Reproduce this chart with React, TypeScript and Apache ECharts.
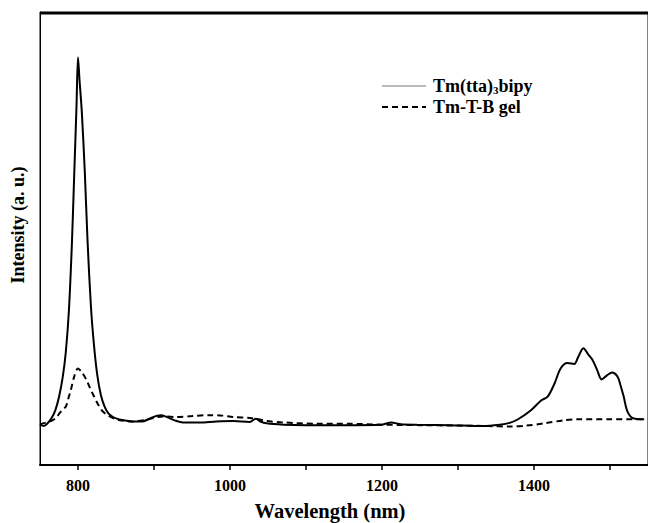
import React, { useEffect, useRef } from "react";
import * as echarts from "echarts";

const seriesNames = ["Tm(tta)3bipy", "Tm-T-B gel"];

const complexWavelength = [750, 755, 760, 765, 770, 775, 780, 784, 788, 792, 795, 798, 800, 802, 805, 809, 812.5, 817, 821, 825, 830, 835, 840, 845, 850, 860, 872, 884, 894, 904, 910, 918, 928, 938, 960, 982, 1004, 1026, 1034, 1040, 1048, 1070, 1100, 1150, 1200, 1212, 1225, 1246, 1290, 1333, 1355, 1368, 1379, 1396, 1409, 1418, 1427, 1435, 1444, 1453, 1458, 1465, 1471, 1477, 1483, 1489, 1496, 1503, 1510, 1514, 1518, 1523, 1531, 1545];
const complexIntensity = [9.0, 8.6, 9.2, 10.3, 12.0, 15.0, 19.5, 25, 34, 49, 64, 79, 90, 85, 78, 64.5, 49.7, 35, 26.5, 20.3, 15.5, 12.9, 11.4, 10.7, 10.3, 9.9, 9.6, 9.6, 10.2, 10.9, 11.0, 10.5, 9.8, 9.4, 9.4, 9.6, 9.7, 9.5, 10.2, 9.6, 9.2, 8.9, 8.8, 8.8, 8.9, 9.4, 9.0, 8.9, 8.8, 8.6, 8.9, 9.3, 10.1, 12.1, 14.2, 15.1, 18.0, 21.3, 22.5, 22.3, 23.8, 25.8, 24.5, 23.2, 21, 18.9, 19.8, 20.4, 19.5, 17.5, 15.1, 11.8, 10.3, 10.1];

const gelWavelength = [750, 756.5, 762, 767, 772, 776, 780, 784, 787, 790.6, 795, 800, 805, 811, 815, 820, 825, 831, 836, 842, 848, 855, 870, 890, 905, 915, 929, 950, 973, 990, 1004, 1026, 1035, 1048, 1070, 1114, 1157, 1200, 1250, 1300, 1340, 1369, 1390, 1414, 1440, 1457, 1500, 1545];
const gelIntensity = [9.0, 9.3, 9.6, 9.9, 10.6, 11.5, 12.2, 12.9, 14.5, 16.6, 19.5, 21.3, 20.5, 18.8, 17.3, 15.5, 13.8, 12.1, 11.3, 10.7, 10.2, 9.9, 9.6, 10.0, 10.6, 10.7, 10.6, 10.8, 11.0, 10.9, 10.6, 10.4, 10.2, 9.7, 9.4, 9.1, 9.1, 8.9, 8.8, 8.7, 8.6, 8.5, 8.7, 9.2, 9.9, 10.1, 10.1, 10.1];

const xLabelValues = [800, 1000, 1200, 1400];
const xTickValues = [800, 900, 1000, 1100, 1200, 1300, 1400, 1500];
const xRange = [750, 1550];
const yRange = [0, 100];

const FONT = '"Liberation Serif", "Times New Roman", serif';

export default function App() {
  const ref = useRef<HTMLDivElement>(null);
  useEffect(() => {
    document.body.style.margin = "0";
    const chart = echarts.init(ref.current!, null, { renderer: "svg" });
    const zip = (xs: number[], ys: number[]) => xs.map((x, i) => [x, ys[i]]);
    chart.setOption({
      animation: false,
      backgroundColor: "#ffffff",
      grid: {
        left: 40,
        right: -3,
        top: 12,
        bottom: 58,
        show: true,
        borderColor: "#000",
        borderWidth: 1,
        backgroundColor: "rgba(0,0,0,0)",
      },
      xAxis: {
        type: "value",
        min: xRange[0],
        max: xRange[1],
        position: "bottom",
        axisLine: { show: true, onZero: false, lineStyle: { color: "#000", width: 2 } },
        axisTick: {
          show: true,
          inside: false,
          length: 5,
          customValues: xTickValues,
          lineStyle: { color: "#000", width: 1.5 },
        },
        axisLabel: {
          customValues: xLabelValues,
          formatter: (v: number) => String(v),
          margin: 12,
          color: "#000",
          fontFamily: FONT,
          fontWeight: "bold",
          fontSize: 16,
        },
        splitLine: { show: false },
      },
      yAxis: {
        type: "value",
        min: yRange[0],
        max: yRange[1],
        axisLine: { show: true, onZero: false, lineStyle: { color: "#000", width: 1 } },
        axisTick: { show: false },
        axisLabel: { show: false },
        splitLine: { show: false },
      },
      legend: {
        orient: "vertical",
        left: 376,
        top: 72,
        itemWidth: 44,
        itemHeight: 14,
        itemGap: 3,
        itemStyle: { opacity: 0 },
        data: [
          { name: seriesNames[0], lineStyle: { color: "#777", width: 1, opacity: 1 } },
          { name: seriesNames[1], lineStyle: { opacity: 1 } },
        ],
        formatter: (name: string) =>
          name === seriesNames[0] ? "{t|Tm(tta)}{s|3}{t|bipy}" : "{t|" + name + "}",
        textStyle: {
          padding: [0, 0, 0, 2],
          rich: {
            t: { fontFamily: FONT, fontWeight: "bold", fontSize: 18, color: "#000", lineHeight: 18 },
            s: { fontFamily: FONT, fontWeight: "bold", fontSize: 11, color: "#000", lineHeight: 18, verticalAlign: "bottom", padding: [6, 0, 0, 0] },
          },
        },
      },
      graphic: [
        {
          id: "xTitle",
          type: "text",
          x: 330,
          y: 511,
          style: {
            text: "Wavelength (nm)",
            fontFamily: FONT,
            fontWeight: "bold",
            fontSize: 20.5,
            fill: "#000",
            align: "center",
            verticalAlign: "middle",
          },
        },
        {
          id: "yTitle",
          type: "text",
          x: 18,
          y: 225,
          rotation: Math.PI / 2,
          style: {
            text: "Intensity (a. u.)",
            fontFamily: FONT,
            fontWeight: "bold",
            fontSize: 18,
            fill: "#000",
            align: "center",
            verticalAlign: "middle",
          },
        },
      ],
      series: [
        {
          name: seriesNames[0],
          type: "line",
          symbol: "none",
          smooth: 0.3,
          data: zip(complexWavelength, complexIntensity),
          lineStyle: { color: "#000", width: 2, type: "solid" },
          itemStyle: { color: "#000" },
        },
        {
          name: seriesNames[1],
          type: "line",
          symbol: "none",
          smooth: 0.3,
          data: zip(gelWavelength, gelIntensity),
          lineStyle: { color: "#000", width: 2, type: [6, 4] },
          itemStyle: { color: "#000" },
        },
      ],
    });
    const p1 = chart.convertToPixel({ gridIndex: 0 }, [xRange[0], yRange[1]]) as number[];
    const p2 = chart.convertToPixel({ gridIndex: 0 }, [xRange[1], yRange[1]]) as number[];
    if (p1 && p2) {
      chart.setOption({
        graphic: [
          {
            id: "topFrame",
            type: "rect",
            z: 100,
            shape: { x: p1[0], y: p1[1], width: p2[0] - p1[0], height: 2.5 },
            style: { fill: "#000" },
          },
        ],
      });
    }
    return () => chart.dispose();
  }, []);
  return <div ref={ref} style={{ width: 648, height: 523 }} />;
}
